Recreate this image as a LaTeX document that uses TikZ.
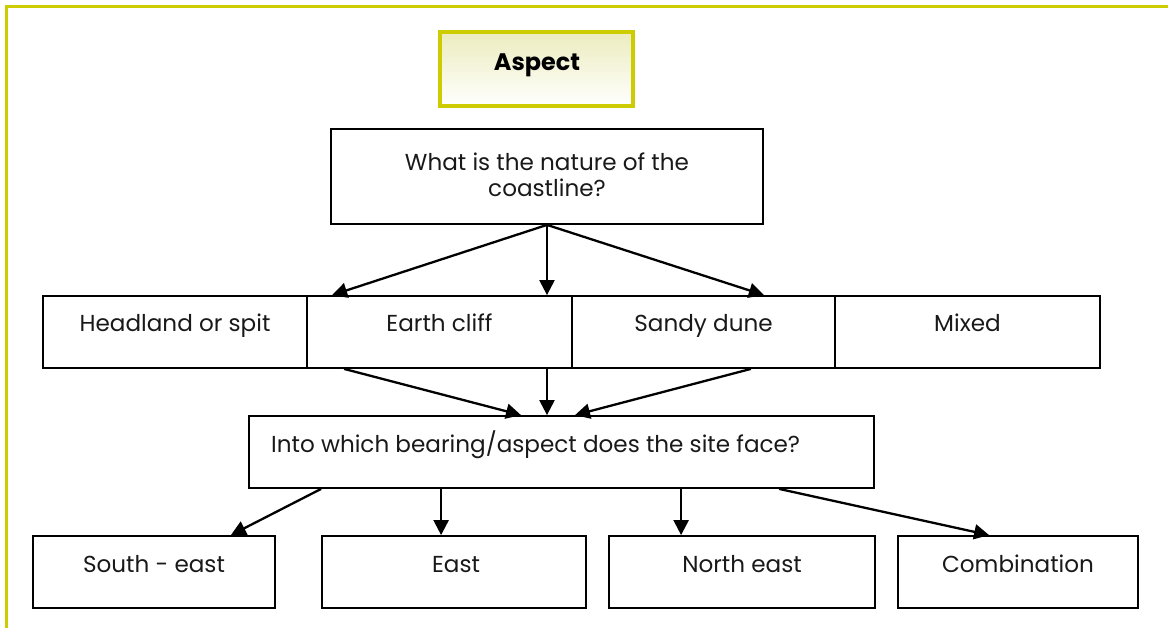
\documentclass[tikz,border=0pt]{standalone}
\usepackage{fontspec}
\setmainfont{Poppins}
\usetikzlibrary{arrows.meta,calc}
\definecolor{frameyellow}{RGB}{204,204,0}
\definecolor{aspecttop}{RGB}{236,236,190}
\begin{document}
\begin{tikzpicture}[x=1bp,y=-1bp,
  box/.style={draw=black, line width=1.8bp, inner sep=0pt, rectangle, minimum height=72bp},
  lbl/.style={font=\fontsize{23.2}{27}\selectfont, inner sep=0pt, align=center, text=black!90, anchor=base},
  arr/.style={line width=2.3bp, -{Triangle[length=15bp,width=15bp]}},
  frame/.style={draw=frameyellow, line width=3bp},
  ]
\useasboundingbox (0,0) rectangle (1168,628);
% frame
\draw[frame] (6,640) -- (6,7) -- (1180,7);
% aspect
\node[draw=frameyellow, line width=3.5bp, top color=aspecttop, bottom color=white,
      minimum width=193bp, minimum height=74bp, inner sep=0pt] (asp) at (536.5,69) {};
\node[font=\fontsize{24}{28}\selectfont\bfseries, inner sep=0pt, anchor=base] (aspt) at (537,71) {Aspect};
% question 1
\node[box, minimum width=432bp, minimum height=95bp] (q1) at (547,176.5) {};
\node[lbl] (q1t) at (547,197) {What is the nature of the\\coastline?};
% row 2
\node[box, minimum width=264bp] (hs) at (175,332) {};
\node[lbl] (hst) at (175,332) {Headland or spit};
\node[box, minimum width=265bp] (ec) at (439.5,332) {};
\node[lbl] (ect) at (439.5,332) {Earth cliff};
\node[box, minimum width=263bp] (sd) at (703.5,332) {};
\node[lbl] (sdt) at (703.5,332) {Sandy dune};
\node[box, minimum width=265bp] (mx) at (967.5,332) {};
\node[lbl] (mxt) at (967.5,332) {Mixed};
% question 2
\node[box, minimum width=625bp] (b3) at (561.5,452) {};
\node[lbl, anchor=base west] (b3t) at (271,452) {Into which bearing/aspect does the site face?};
% bottom row
\node[box, minimum width=242bp] (se) at (154,572) {};
\node[lbl] (set) at (154,572) {South - east};
\node[box, minimum width=264bp] (ea) at (454,572) {};
\node[lbl] (eat) at (456,572) {East};
\node[box, minimum width=266bp] (ne) at (742,572) {};
\node[lbl] (net) at (742,572) {North east};
\node[box, minimum width=240bp] (cb) at (1018,572) {};
\node[lbl] (cbt) at (1018,572) {Combination};
% arrows from q1
\draw[arr] (q1.south) -- ([xshift=26bp]ec.north west);
\draw[arr] (q1.south) -- (q1.south |- ec.north);
\draw[arr] (q1.south) -- ([xshift=-72bp]sd.north east);
% arrows to b3
\draw[arr] ([xshift=38bp]ec.south west) -- ($(q1.south |- b3.north)+(-26,0)$);
\draw[arr] (q1.south |- ec.south) -- (q1.south |- b3.north);
\draw[arr] ([xshift=-85bp]sd.south east) -- ($(q1.south |- b3.north)+(28,0)$);
% arrows from b3
\draw[arr] ([xshift=73bp]b3.south west) -- ([xshift=-45bp]se.north east);
\draw[arr] ([xshift=193bp]b3.south west) -- ([xshift=193bp]b3.south west |- ea.north);
\draw[arr] ([xshift=433bp]b3.south west) -- ([xshift=433bp]b3.south west |- ne.north);
\draw[arr] ([xshift=531bp]b3.south west) -- ([xshift=92bp]cb.north west);
\end{tikzpicture}
\end{document}
